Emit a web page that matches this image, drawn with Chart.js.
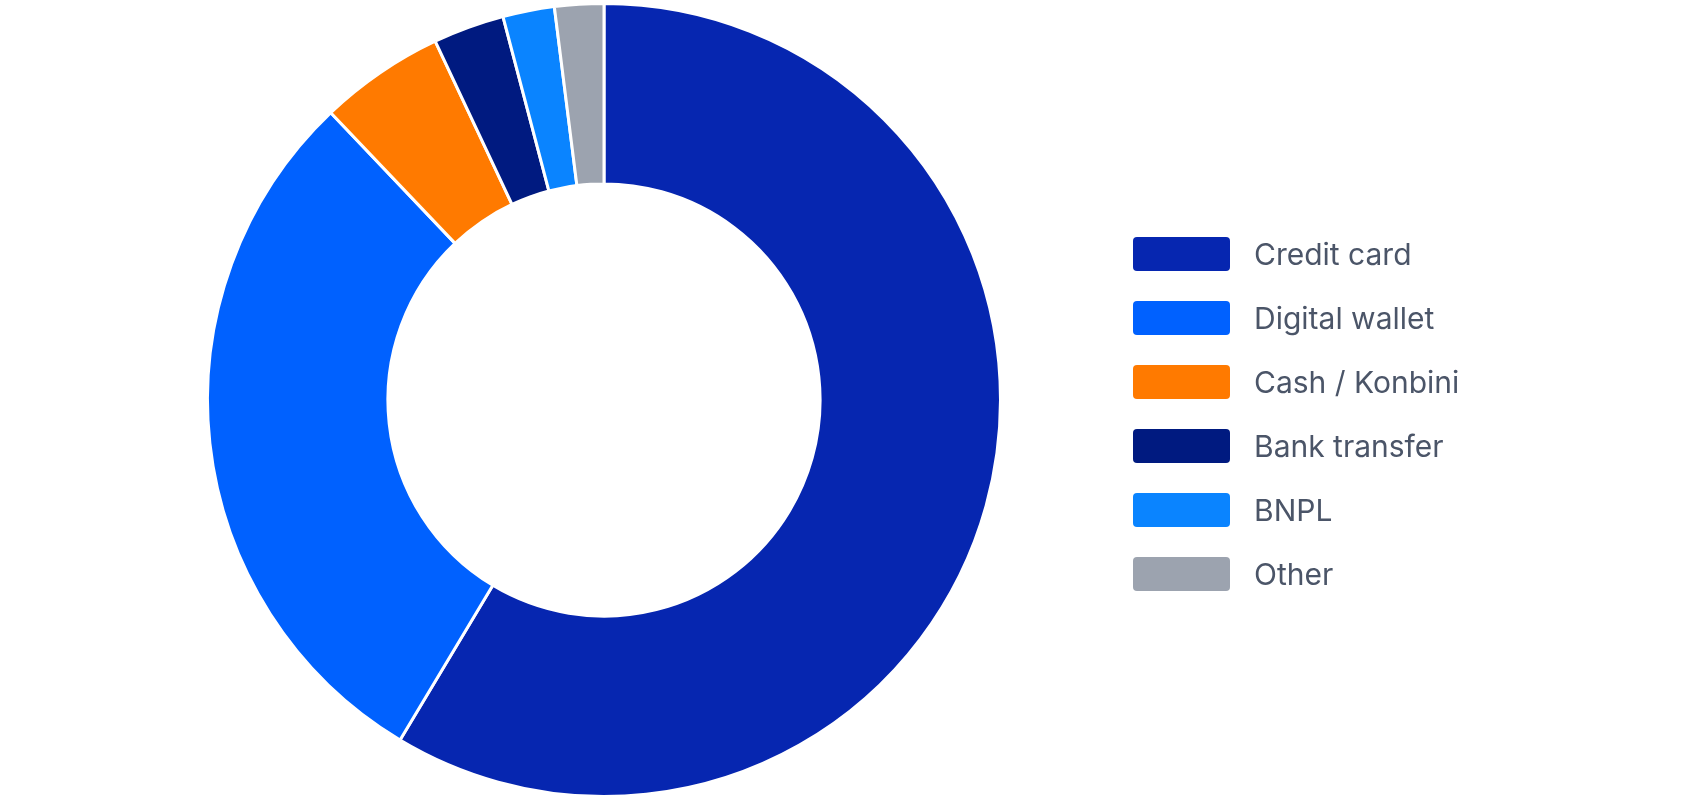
<!DOCTYPE html>
<html><head><meta charset="utf-8">
<script src="https://cdn.jsdelivr.net/npm/chart.js"></script>
<style>
html,body{margin:0;padding:0;background:#fff;width:1688px;height:800px;overflow:hidden;font-family:Inter,"Open Sans",sans-serif}
#wrap{position:absolute;left:0;top:0;width:1688px;height:800px}
#legend{position:absolute;left:1133px;top:222px}
.item{display:flex;align-items:center;height:64px}
.box{width:97px;height:34px;border-radius:4px;margin-right:24px}
.lbl{font-size:30px;color:#4B5568}
</style></head><body>
<div id="wrap"><canvas id="c" width="1688" height="800"></canvas></div>
<div id="legend"></div>
<script>
const categories=["Credit card","Digital wallet","Cash / Konbini","Bank transfer","BNPL","Other"];
const shares=[58.6,29.3,5.1,2.9,2.1,2.0];
const colors=["#0626B0","#0061FF","#FF7A00","#001A80","#0A84FF","#9CA3AF"];
new Chart(document.getElementById('c'),{
 type:'doughnut',
 data:{labels:categories,datasets:[{data:shares,backgroundColor:colors,borderColor:'#fff',borderWidth:3}]},
 options:{responsive:false,animation:false,cutout:'54.5%',
  layout:{padding:{left:0,right:480,top:2,bottom:2}},
  plugins:{legend:{display:false},tooltip:{enabled:false}}}
});
const lg=document.getElementById('legend');
categories.forEach((c,i)=>{const d=document.createElement('div');d.className='item';
d.innerHTML=`<div class="box" style="background:${colors[i]}"></div><span class="lbl">${c}</span>`;lg.appendChild(d);});
</script></body></html>
